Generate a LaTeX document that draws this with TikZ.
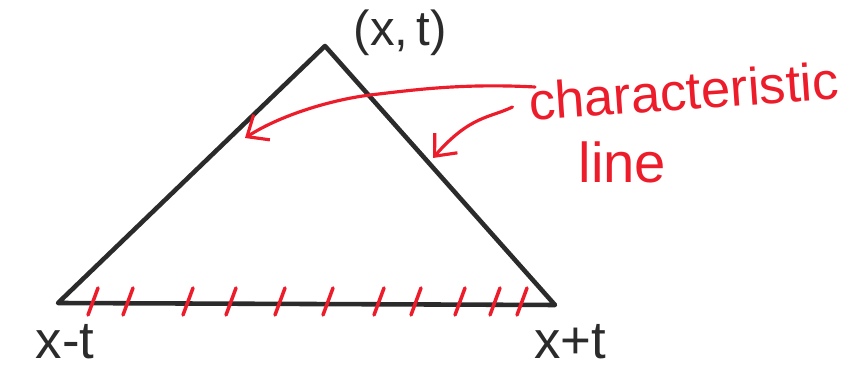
\documentclass[tikz,border=0pt]{standalone}
\usepackage{fontspec}
\setmainfont{Liberation Sans}
\usetikzlibrary{arrows.meta}
\definecolor{trazo}{HTML}{2B2B2B}
\definecolor{rojo}{HTML}{EC1C2A}
\tikzset{
	lado/.style={trazo, line width=2.6pt, line join=round, line cap=round},
	flecha/.style={rojo, line width=1.8pt, line cap=round, -{Straight Barb[length=3.5mm, width=6mm]}},
	rayita/.style={rojo, line width=2pt, line cap=round}
}
\begin{document}
\begin{tikzpicture}[font=\fontsize{30}{34}\selectfont]
				\useasboundingbox (0,0) rectangle (17.18,7.66);
				\coordinate (cima) at (6.5,6.74);
				\coordinate (izq)  at (1.16,1.6);
				\coordinate (der)  at (11.1,1.56);
				\draw[lado] (izq) -- (cima) -- (der) -- cycle;
				\foreach \x in {1.86,2.56,3.76,4.62,5.6,6.56,7.58,8.32,9.2,9.9,10.44}
					\draw[rayita] (\x-0.1,1.36) -- (\x+0.1,1.9);
				\node[text=trazo, anchor=west, font=\fontsize{28}{32}\selectfont] (punto) at (6.95,7.0) {(x,\,t)};
				\node[text=trazo, anchor=north] (menos) at (1.3,1.3) {x-t};
				\node[text=trazo, anchor=north] (mas) at (11.4,1.3) {x+t};
				\node[text=rojo, anchor=west, rotate=4] (carac) at (10.45,5.62) {characteristic};
				\node[text=rojo, anchor=west, font=\fontsize{32}{36}\selectfont] (linea) at (11.45,4.42) {line};
				\coordinate (punta1) at (4.9,4.9);
				\coordinate (punta2) at (8.66,4.5);
				\draw[flecha] ([shift={(0.25,0.3)}]carac.west) .. controls (9.2,6.0) and (8.2,5.85) .. (7.4,5.76)
					.. controls (6.6,5.66) and (5.6,5.35) .. (punta1);
				\draw[flecha] ([shift={(-0.2,-0.1)}]carac.west) .. controls (9.8,5.3) and (9.4,5.35) .. (punta2);
			\end{tikzpicture}
\end{document}
